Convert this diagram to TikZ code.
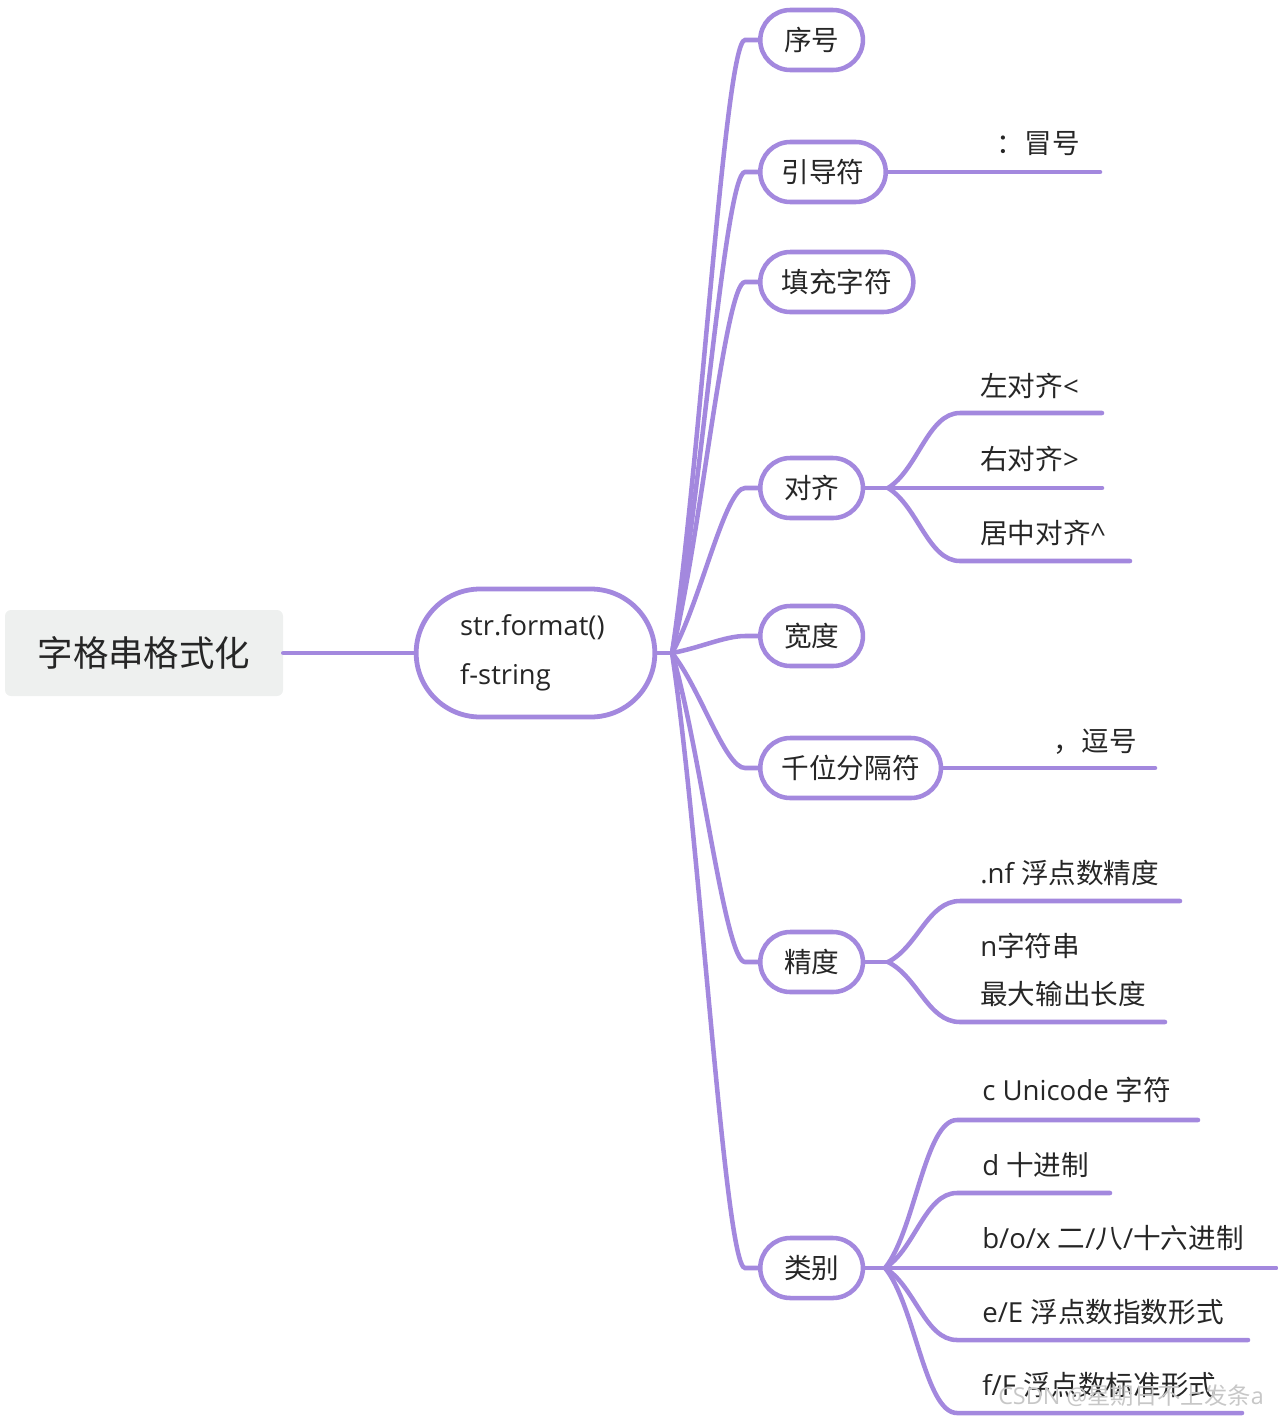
\documentclass[tikz,border=0pt]{standalone}
\usepackage{fontspec}
\setmainfont{Noto Sans CJK SC}
\newfontfamily\lat{Open Sans}
\newcommand\latn[1]{{\lat #1}}
\definecolor{br}{RGB}{163,136,222}
\definecolor{tx}{RGB}{38,38,38}
\definecolor{rootbg}{RGB}{238,240,239}
\begin{document}
\begin{tikzpicture}[x=0.75pt,y=-0.75pt,
  conn/.style={draw=br, line width=3.4pt, line cap=round},
  topic/.style={draw=br, line width=3.4pt, fill=white, rectangle, rounded corners=22.5pt,
    minimum height=45pt, minimum width=77pt, inner xsep=16pt, inner ysep=0pt,
    anchor=west, text=tx, font=\fontsize{20.7}{24}\selectfont},
  leaf/.style={anchor=base west, inner sep=0pt, text=tx, font=\fontsize{20.7}{24}\selectfont},
  leafr/.style={anchor=base east, inner sep=0pt, text=tx, font=\fontsize{20.7}{24}\selectfont}]
\useasboundingbox (0,0) rectangle (1278,1418);

% root and centre
\node[fill=rootbg, rounded corners=4.5pt, minimum width=208.5pt, minimum height=64.5pt,
  text=tx, font=\fontsize{26.6}{30}\selectfont] (root) at (144,653) {字格串格式化};
\node[draw=br, line width=3.6pt, fill=white, rounded corners=48pt, minimum height=96pt,
  text width=113pt, inner xsep=33pt, align=left, text=tx,
  font=\fontsize{20.5}{37}\selectfont] (center) at (535.5,653) {\latn{str.format()}\\\latn{f-string}};
\draw[conn] (root.east) -- (center.west);
\coordinate (hub) at (672,653);
\draw[conn] (center.east) -- (hub);

% main topics
\node[topic] (xuhao) at (758,40) {序号};
\node[topic] (yindao) at (758,172) {引导符};
\node[topic] (tianchong) at (758,282) {填充字符};
\node[topic] (duiqi) at (758,488) {对齐};
\node[topic] (kuandu) at (758,636) {宽度};
\node[topic] (qianwei) at (758,768) {千位分隔符};
\node[topic] (jingdu) at (758,962) {精度};
\node[topic] (leibie) at (758,1268) {类别};

\foreach \n/\y in {xuhao/40, yindao/172, tianchong/282, duiqi/488, kuandu/636, qianwei/768, jingdu/962, leibie/1268}
  \draw[conn] (hub) .. controls (700,{653+0.3*(\y-653)}) and (725,\y) .. (745,\y) -- (\n.west);

% 引导符
\coordinate (mhend) at (1100,172);
\draw[conn] (yindao.east) -- (mhend);
\node[leafr] (mh) at (1080,153) {：冒号};

% 千位分隔符
\coordinate (dhend) at (1155,768);
\draw[conn] (qianwei.east) -- (dhend);
\node[leafr] (dh) at (1137,751) {，逗号};

% 对齐
\coordinate (dqh) at (888,488);
\draw[conn] (duiqi.east) -- (dqh);
\coordinate (dq1) at (1102,413);
\coordinate (dq2) at (1102,488);
\coordinate (dq3) at (1130,561);
\foreach \n/\y in {dq1/413, dq3/561}
  \draw[conn] (dqh) .. controls (918,{488+0.25*(\y-488)}) and (928,\y) .. (960,\y) -- (\n);
\draw[conn] (dqh) -- (dq2);
\node[leaf] (l1) at (980,396) {左对齐\latn{<}};
\node[leaf] (l2) at (980,469) {右对齐\latn{>}};
\node[leaf] (l3) at (980,543) {居中对齐\latn{\textasciicircum}};

% 精度
\coordinate (jdh) at (888,962);
\draw[conn] (jingdu.east) -- (jdh);
\coordinate (jd1) at (1180,901);
\coordinate (jd2) at (1165,1022);
\foreach \n/\y in {jd1/901, jd2/1022}
  \draw[conn] (jdh) .. controls (918,{962+0.25*(\y-962)}) and (928,\y) .. (960,\y) -- (\n);
\node[leaf] (p1) at (980,883) {\latn{.nf }浮点数精度};
\node[leaf] (p2) at (980,956) {\latn{n}字符串};
\node[leaf] (p3) at (980,1004) {最大输出长度};

% 类别
\coordinate (lbh) at (885,1268);
\draw[conn] (leibie.east) -- (lbh);
\coordinate (lb1) at (1198,1120);
\coordinate (lb2) at (1110,1193);
\coordinate (lb3) at (1276,1268);
\coordinate (lb4) at (1248,1340);
\coordinate (lb5) at (1242,1413);
\foreach \n/\y in {lb1/1120, lb2/1193, lb4/1340, lb5/1413}
  \draw[conn] (lbh) .. controls (915,{1268+0.25*(\y-1268)}) and (925,\y) .. (957,\y) -- (\n);
\draw[conn] (lbh) -- (lb3);
\node[leaf] (c1) at (982,1100) {\latn{c Unicode }字符};
\node[leaf] (c2) at (982,1175) {\latn{d }十进制};
\node[leaf] (c3) at (982,1248) {\latn{b/o/x }二\latn{/}八\latn{/}十六进制};
\node[leaf] (c4) at (982,1322) {\latn{e/E }浮点数指数形式};
\node[leaf] (c5) at (982,1395) {\latn{f/F }浮点数标准形式};

% watermark
\node[anchor=base west, inner sep=0pt, text=black!22, font=\fontsize{17.5}{20}\selectfont] (wm) at (998,1404) {\latn{CSDN @}星期日不上发条\latn{a}};
\end{tikzpicture}
\end{document}
